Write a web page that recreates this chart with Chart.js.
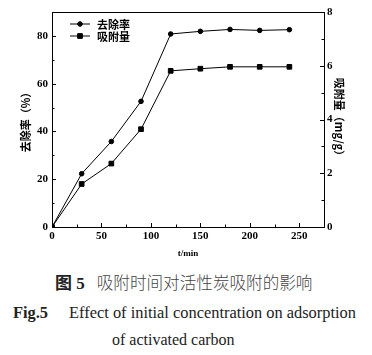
<!DOCTYPE html>
<html>
<head>
<meta charset="utf-8">
<script src="https://cdn.jsdelivr.net/npm/chart.js@4"></script>
<style>
html,body{margin:0;padding:0;background:#fff;width:372px;height:355px;overflow:hidden;}
#wrap{position:absolute;left:0;top:0;width:372px;height:262px;}
.cap{position:absolute;white-space:pre;line-height:20px;color:#222;}
</style>
</head>
<body>
<div id="wrap"><canvas id="c"></canvas></div>
<div class="cap" style="top:272px;left:55px;font-size:17px;"><span style="font-family:'Liberation Serif','Noto Sans CJK SC';font-weight:bold;">图 5</span><span style="display:inline-block;width:12px;"></span><span style="font-family:'Noto Sans CJK SC';font-weight:300;color:#444;font-size:16.6px;">吸附时间对活性炭吸附的影响</span></div>
<div class="cap" style="top:303px;left:13px;font-family:'Liberation Serif';font-size:16.4px;"><b>Fig.5</b><span style="display:inline-block;width:21px;"></span>Effect of initial concentration on adsorption</div>
<div class="cap" style="top:330px;left:112px;font-family:'Liberation Serif';font-size:16px;">of activated carbon</div>
<script>
const times = [0, 30, 60, 90, 120, 150, 180, 210, 240];
const removalRate = [0, 22.3, 35.8, 52.6, 80.8, 81.9, 82.7, 82.3, 82.6];
const adsorption = [0, 1.60, 2.36, 3.64, 5.81, 5.89, 5.96, 5.96, 5.96];
const seriesNames = ['去除率', '吸附量'];
const leftTitle = '去除率（%）';
const rightTitle = '吸附量（mg/g）';
const xTitle = 't/min';

const tickFont = {family: "'Liberation Serif', serif", weight: 'bold', size: 11};

const framePlugin = {
  id: 'frame',
  afterDraw(chart) {
    const ctx = chart.ctx, a = chart.chartArea;
    ctx.save();
    ctx.strokeStyle = '#000';
    ctx.lineWidth = 1;
    ctx.beginPath();
    ctx.moveTo(a.left, a.top + 0.5); ctx.lineTo(a.right, a.top + 0.5);
    ctx.stroke();
    const drawTicks = (scale, horizontal, fromEdge, dir) => {
      const vals = scale.ticks.map(t => t.value);
      const step = vals.length > 1 ? vals[1] - vals[0] : 0;
      const items = [];
      vals.forEach(v => {
        items.push([v, 4]);
        if (v + step / 2 < scale.max) items.push([v + step / 2, 2.5]);
      });
      items.forEach(([v, len]) => {
        const p = Math.round(scale.getPixelForValue(v)) + 0.5;
        ctx.beginPath();
        if (horizontal) { ctx.moveTo(p, fromEdge); ctx.lineTo(p, fromEdge + dir * len); }
        else { ctx.moveTo(fromEdge, p); ctx.lineTo(fromEdge + dir * len, p); }
        ctx.stroke();
      });
    };
    drawTicks(chart.scales.x, true, a.bottom, -1);
    drawTicks(chart.scales.y, false, a.left, 1);
    drawTicks(chart.scales.y1, false, a.right, -1);
    // legend
    ctx.font = "bold 11px 'Noto Sans CJK SC', sans-serif";
    ctx.textBaseline = 'middle';
    ctx.fillStyle = '#000';
    chart.data.datasets.forEach((ds, i) => {
      const y = a.top + 12 + i * 12;
      const x0 = a.left + 18;
      ctx.beginPath();
      ctx.moveTo(x0, y); ctx.lineTo(x0 + 20, y);
      ctx.stroke();
      Chart.helpers.drawPoint(ctx, {pointStyle: ds.pointStyle, radius: ds.pointRadius, borderWidth: 1}, x0 + 10, y);
      ctx.fill();
      ctx.fillText(ds.label, x0 + 27, y + 0.5);
    });
    ctx.restore();
  }
};

new Chart(document.getElementById('c'), {
  type: 'line',
  data: {
    labels: times,
    datasets: [
      {label: seriesNames[0], data: times.map((t, i) => ({x: t, y: removalRate[i]})), yAxisID: 'y',
       borderColor: '#000', backgroundColor: '#000', borderWidth: 1, pointStyle: 'circle', pointRadius: 2.3, tension: 0},
      {label: seriesNames[1], data: times.map((t, i) => ({x: t, y: adsorption[i]})), yAxisID: 'y1',
       borderColor: '#000', backgroundColor: '#000', borderWidth: 1, pointStyle: 'rect', pointRadius: 3.3, tension: 0}
    ]
  },
  options: {
    responsive: true,
    maintainAspectRatio: false,
    animation: false,
    layout: {padding: {top: 12, left: 0, right: 0, bottom: 0}},
    plugins: {legend: {display: false}, tooltip: {enabled: false}},
    scales: {
      x: {
        type: 'linear', min: 0, max: 275,
        ticks: {stepSize: 50, includeBounds: false, color: '#000', font: tickFont, padding: 3, maxRotation: 0},
        grid: {display: false, drawTicks: false},
        border: {display: true, color: '#000', width: 1},
        title: {display: true, text: xTitle, color: '#000', font: {family: "'Liberation Serif', serif", weight: 'bold', size: 9}, padding: {top: 0, bottom: 3}},
        afterFit(s) { s.height = 35; }
      },
      y: {
        position: 'left', min: 0, max: 90,
        ticks: {stepSize: 20, includeBounds: false, color: '#000', font: tickFont, padding: 4},
        grid: {display: false, drawTicks: false},
        border: {display: true, color: '#000', width: 1},
        title: {display: true, text: leftTitle, color: '#000', font: {family: "'Noto Sans CJK SC', sans-serif", weight: 'bold', size: 11}, padding: {top: 19, bottom: 0}},
        afterFit(s) { s.width = 52; }
      },
      y1: {
        position: 'right', min: 0, max: 8,
        ticks: {stepSize: 2, includeBounds: false, color: '#000', font: tickFont, padding: 3},
        grid: {display: false, drawTicks: false},
        border: {display: true, color: '#000', width: 1},
        title: {display: true, text: rightTitle, color: '#000', font: {family: "'Noto Sans CJK SC', sans-serif", weight: 'bold', size: 11}, padding: {top: 26, bottom: 0}},
        afterFit(s) { s.width = 48; }
      }
    }
  },
  plugins: [framePlugin]
});
</script>
</body>
</html>
